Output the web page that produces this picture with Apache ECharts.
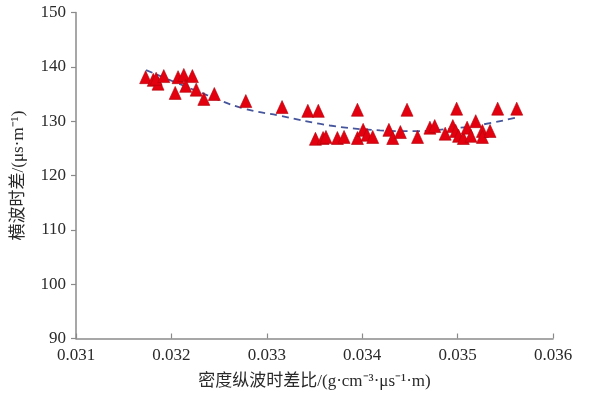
<!DOCTYPE html>
<html>
<head>
<meta charset="utf-8">
<script src="https://cdn.jsdelivr.net/npm/echarts@6/dist/echarts.min.js"></script>
<style>html,body{margin:0;padding:0;background:#fff;}#c{width:600px;height:401px;}</style>
</head>
<body>
<div id="c"></div>
<script>
const xVals = [0.03173,0.03181,0.03186,0.03184,0.03192,0.03207,0.03213,0.03222,0.03204,0.03215,
  0.03226,0.03234,0.03245,0.03278,0.03316,0.03343,0.03354,0.03395,0.03447,0.03351,
  0.03359,0.03362,0.03374,0.03381,0.03395,0.03401,0.03405,0.03411,0.03428,0.03432,
  0.03440,0.03458,0.03471,0.03476,0.03487,0.03495,0.03499,0.03498,0.03501,0.03506,
  0.03510,0.03514,0.03519,0.03526,0.03526,0.03534,0.03542,0.03562];
const yVals = [138.1,137.6,136.9,137.8,138.3,138.1,138.5,138.3,135.2,136.5,
  135.8,134.1,135.0,133.7,132.6,131.9,131.9,132.1,132.1,126.75,
  126.9,127.1,126.9,127.1,126.9,128.4,127.5,127.1,128.4,126.9,
  128.0,127.1,128.8,129.1,127.7,129.1,132.3,128.2,127.3,126.9,
  128.8,127.3,130.0,128.2,127.1,128.2,132.3,132.3];
const trendX = [0.031734,0.032373,0.032751,0.033138,0.033662,0.034187,0.034553,0.034920,0.035235,0.035602];
const trendY = [139.4,134.8,132.35,131.0,129.2,128.3,128.15,128.6,129.3,130.6];
const xTicks = [0.031,0.032,0.033,0.034,0.035,0.036];
const yTicks = [90,100,110,120,130,140,150];
const xName = '密度纵波时差比/(g·cm⁻³·μs⁻¹·m)';
const yName = '横波时差/(μs·m⁻¹)';

const scatterData = xVals.map((x, i) => [x, yVals[i]]);
const trendData = trendX.map((x, i) => [x, trendY[i]]);
const font = '"Liberation Serif", "Noto Sans CJK SC", serif';
const axisColor = '#8a8a8a';
const textColor = '#2a2a2a';

const chart = echarts.init(document.getElementById('c'), null, {renderer: 'canvas'});
chart.setOption({
  animation: false,
  backgroundColor: '#fff',
  grid: {left: 76, right: 47, top: 12.5, bottom: 62.5, containLabel: false},
  xAxis: {
    type: 'value',
    min: xTicks[0], max: xTicks[xTicks.length - 1], interval: 0.001,
    name: xName, nameLocation: 'middle', nameGap: 35,
    nameTextStyle: {fontFamily: font, fontSize: 17, color: textColor},
    axisLine: {lineStyle: {color: axisColor, width: 1.5}},
    axisTick: {inside: true, length: 5, lineStyle: {color: axisColor, width: 1.2}},
    axisLabel: {fontFamily: font, fontSize: 17, color: textColor, margin: 9,
      formatter: v => v.toFixed(3)},
    splitLine: {show: false}
  },
  yAxis: {
    type: 'value',
    min: yTicks[0], max: yTicks[yTicks.length - 1], interval: 10,
    name: yName, nameLocation: 'middle', nameGap: 49, nameRotate: 90,
    nameTextStyle: {fontFamily: font, fontSize: 17, color: textColor},
    axisLine: {show: true, lineStyle: {color: axisColor, width: 1.5}},
    axisTick: {show: true, inside: false, length: 5, lineStyle: {color: axisColor, width: 1.2}},
    axisLabel: {fontFamily: font, fontSize: 17, color: textColor, margin: 10},
    splitLine: {show: false}
  },
  series: [
    {
      type: 'line',
      data: trendData,
      smooth: 0.4,
      showSymbol: false,
      lineStyle: {color: '#46569c', width: 1.8, type: [7, 5]},
      z: 1
    },
    {
      type: 'scatter',
      data: scatterData,
      symbol: 'triangle',
      symbolSize: [12, 13],
      itemStyle: {color: '#e3000f', borderColor: '#b0000a', borderWidth: 0.6, opacity: 1},
      z: 2
    }
  ]
});
</script>
</body>
</html>
